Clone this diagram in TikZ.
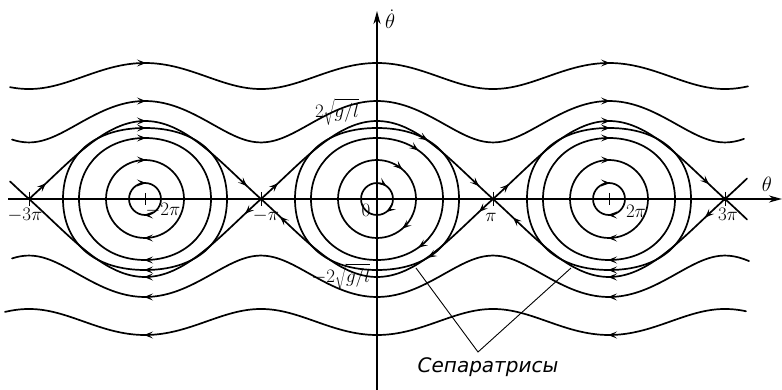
\documentclass[tikz,border=0pt]{standalone}
\usepackage{graphicx}
\usepackage{fontspec}
\newfontfamily\cyrfont{DejaVu Sans}
\usetikzlibrary{arrows.meta}
\tikzset{
  parr/.tip={Stealth[length=9pt,width=7pt,inset=4pt]},
  curve/.style={line width=1.7pt,line join=round,line cap=round},
  farrow/.style={line width=1.5pt,-parr},
  ax/.style={line width=1.4pt,-{Stealth[length=13pt,width=7pt,inset=4pt]}},
  lbl/.style={inner sep=0pt,font=\fontsize{17.28}{19}\selectfont},
  leader/.style={line width=0.9pt},
  tick/.style={line width=1pt},
}
\newcommand\mylbl[2]{\scalebox{#1}{$#2$}}
\def\myoval#1#2#3#4#5{(#1-#3,#2) .. controls (#1-#3,#2-#5*#4) and (#1-#5*#3,#2-#4) .. (#1,#2-#4) .. controls (#1+#5*#3,#2-#4) and (#1+#3,#2-#5*#4) .. (#1+#3,#2) .. controls (#1+#3,#2+#5*#4) and (#1+#5*#3,#2+#4) .. (#1,#2+#4) .. controls (#1-#5*#3,#2+#4) and (#1-#3,#2+#5*#4) .. cycle}
% arrow on separatrix: tail x, tip x, sign (- upper, + lower)
\newcommand\sarr[3]{\draw[farrow] ({#1},{199#3hs(#1)}) -- ({#2},{199#3hs(#2)});}
% arrows on right side of an oval: cx, a, b, k, t
\newcommand\ovarr[5]{%
  \pgfmathsetmacro\ovtu{1-#5}%
  \pgfmathsetmacro\ovpx{#2*(3*\ovtu*\ovtu*#5*#4+3*\ovtu*#5*#5+#5*#5*#5)}%
  \pgfmathsetmacro\ovpy{#3*(\ovtu*\ovtu*\ovtu+3*\ovtu*\ovtu*#5+3*\ovtu*#5*#5*#4)}%
  \pgfmathsetmacro\ovdx{#2*(\ovtu*\ovtu*#4+2*\ovtu*#5*(1-#4))}%
  \pgfmathsetmacro\ovdy{#3*(2*\ovtu*#5*(1-#4)+#5*#5*#4)}%
  \pgfmathsetmacro\ovvl{veclen(\ovdx,\ovdy)}%
  \draw[farrow] ({#1+\ovpx-2*\ovdx/\ovvl},{199-\ovpy-2*\ovdy/\ovvl}) -- ({#1+\ovpx},{199-\ovpy});
  \draw[farrow] ({#1+\ovpx+2*\ovdx/\ovvl},{199+\ovpy-2*\ovdy/\ovvl}) -- ({#1+\ovpx},{199+\ovpy});
}
\begin{document}
\begin{tikzpicture}[x=1pt,y=-1pt,
  declare function={
    hs(\x)=78*abs(cos((\x-377)/116*90))*(0.85+0.15*abs(cos((\x-377)/116*90)));
    wv(\x,\e)=40*sqrt(2*(\e+cos((\x-377)/116*180)));
  }]
\useasboundingbox (0,0) rectangle (782,390);

% axes
\draw[ax] (8,199) -- (782,199);
\draw[ax] (377,390) -- (377,11);
\node[lbl,anchor=west] (thd) at (385,19) {\mylbl{1.2}{\dot\theta}};
\node[lbl] (th) at (767,184) {\mylbl{1.2}{\theta}};

% ticks
\foreach \c in {145,609} \draw[tick] (\c,193) -- (\c,205);
\foreach \c in {29,261,493,725} \draw[tick] (\c,192) -- (\c,206);

% rotation (wavy) curves
\foreach \e/\a/\b in {4.78/10/748, 2/12/744}
  \draw[curve] plot[domain=\a:\b,samples=150,smooth] (\x,{199-wv(\x,\e)});
\foreach \e/\a/\b in {4.78/5/746, 2/12/749}
  \draw[curve] plot[domain=\a:\b,samples=150,smooth] (\x,{199+wv(\x,\e)});
\foreach \e in {4.78,2}
  \foreach \c in {145,609} {
    \draw[farrow] ({\c-1},{199-wv(\c,\e)}) -- ({\c+1},{199-wv(\c,\e)});
    \draw[farrow] ({\c+1},{199+wv(\c,\e)}) -- ({\c-1},{199+wv(\c,\e)});
  }

% separatrices
\draw[curve] plot[domain=10:261,samples=90,smooth] (\x,{199-hs(\x)});
\draw[curve] plot[domain=261:493,samples=80,smooth] (\x,{199-hs(\x)});
\draw[curve] plot[domain=493:747,samples=90,smooth] (\x,{199-hs(\x)});
\draw[curve] plot[domain=29:261,samples=80,smooth] (\x,{199+hs(\x)});
\draw[curve] plot[domain=261:493,samples=80,smooth] (\x,{199+hs(\x)});
\draw[curve] plot[domain=493:747,samples=90,smooth] (\x,{199+hs(\x)});
% separatrix arrows, upper (to the right)
\sarr{44}{46}{-}
\sarr{144}{146}{-}
\sarr{245}{247}{-}
\sarr{276}{278}{-}
\sarr{477}{479}{-}
\sarr{507}{509}{-}
\sarr{608}{610}{-}
\sarr{707}{709}{-}
% separatrix arrows, lower (to the left)
\sarr{707}{705}{+}
\sarr{610}{608}{+}
\sarr{515}{513}{+}
\sarr{481}{479}{+}
\sarr{282}{280}{+}
\sarr{247}{245}{+}
\sarr{146}{144}{+}

% closed orbits
\foreach \c in {145,377,609} {
  \draw[curve] \myoval{\c}{199}{16}{16}{0.552};
  \draw[curve] \myoval{\c}{199}{39}{39}{0.552};
  \draw[curve] \myoval{\c}{199}{66}{61}{0.58};
  \draw[curve] \myoval{\c}{199}{82}{71}{0.62};
}
\foreach \c in {145,609}
  \foreach \b in {16,39,61,71} {
    \draw[farrow] ({\c-1},{199-\b}) -- ({\c+1},{199-\b});
    \draw[farrow] ({\c+1},{199+\b}) -- ({\c-1},{199+\b});
  }
\ovarr{377}{16}{16}{0.552}{0.4}
\ovarr{377}{39}{39}{0.552}{0.45}
\ovarr{377}{66}{61}{0.58}{0.42}
\ovarr{377}{82}{71}{0.62}{0.4}

% labels
\node[lbl] (top) at (337,112) {\mylbl{1.1}{2\sqrt{g/l}}};
\node[lbl] (bot) at (341,277) {\mylbl{1.1}{-2\sqrt{g/l}}};
\node[lbl] (m3) at (25,215) {\mylbl{1.1}{-3\pi}};
\node[lbl] (m2) at (163,210) {\mylbl{1.1}{-2\pi}};
\node[lbl] (m1) at (266,216) {\mylbl{1.1}{-\pi}};
\node[lbl] (z) at (366,210) {\mylbl{1.1}{0}};
\node[lbl] (p1) at (491,217) {\mylbl{1.1}{\pi}};
\node[lbl] (p2) at (636,211) {\mylbl{1.1}{2\pi}};
\node[lbl] (p3) at (728,214) {\mylbl{1.1}{3\pi}};

% separatrix caption
\node[inner sep=0pt,anchor=north,font=\cyrfont\itshape\fontsize{20}{22}\selectfont] (sep) at (488,357) {Сепаратрисы};
\coordinate (apex) at (478,352);
\coordinate (sa) at (416,268);
\coordinate (sb) at (571,268);
\draw[leader] (sa) -- (apex) -- (sb);
\end{tikzpicture}
\end{document}
